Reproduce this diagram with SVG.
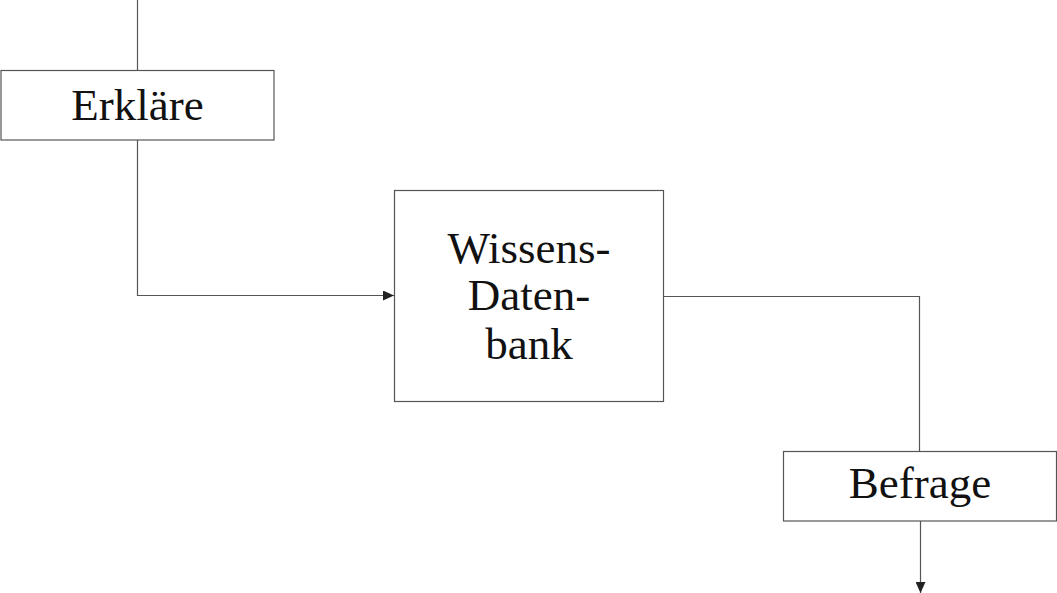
<svg xmlns="http://www.w3.org/2000/svg" width="1057" height="593" viewBox="0 0 1057 593">
<style>
.box{fill:#fff;stroke:#555;stroke-width:1.2}
.lbl{font-family:"Liberation Serif",serif;font-size:45px;fill:#111;text-anchor:middle}
.conn{fill:none;stroke:#555;stroke-width:1.2}
</style>
<defs>
<marker id="arr" markerWidth="11" markerHeight="10" refX="11" refY="5" orient="auto" markerUnits="userSpaceOnUse">
<path d="M0,0 L11,5 L0,10 z" fill="#222"/>
</marker>
</defs>
<g id="connectors">
<path class="conn" d="M137.5,0 V70"/>
<path class="conn" d="M137.5,140 V295.5 H394" marker-end="url(#arr)"/>
<path class="conn" d="M663,296.5 H919.5 V451"/>
<path class="conn" d="M920.5,521 V593" marker-end="url(#arr)"/>
</g>
<g id="erklaere">
<rect class="box" x="1" y="70.5" width="273" height="69.5"/>
<text class="lbl" x="137.5" y="120">Erkläre</text>
</g>
<g id="wissensdatenbank">
<rect class="box" x="394.5" y="190.5" width="269" height="211"/>
<text class="lbl" x="529" y="263">Wissens-</text>
<text class="lbl" x="529" y="310">Daten-</text>
<text class="lbl" x="529" y="359">bank</text>
</g>
<g id="befrage">
<rect class="box" x="783.5" y="451.5" width="273" height="69.5"/>
<text class="lbl" x="920" y="498">Befrage</text>
</g>
</svg>
